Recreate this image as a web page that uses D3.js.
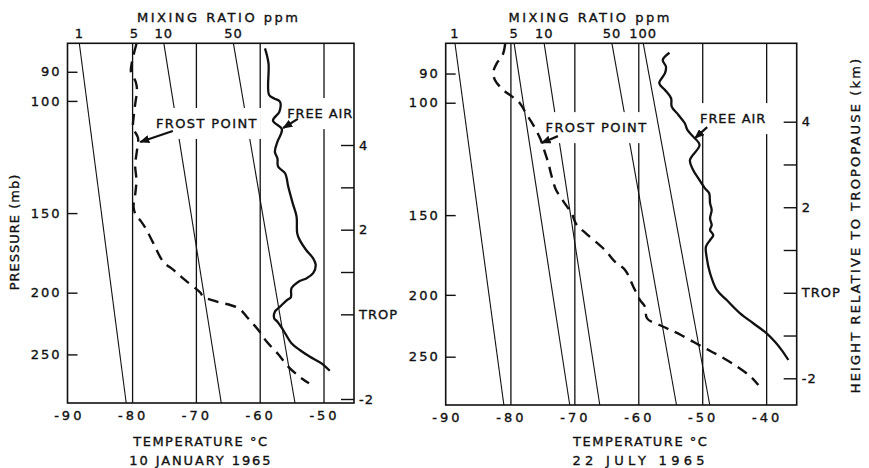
<!DOCTYPE html>
<html>
<head>
<meta charset="utf-8">
<script src="https://cdnjs.cloudflare.com/ajax/libs/d3/7.8.5/d3.min.js"></script>
<style>
body { margin: 0; background: #fff; }
svg text { font-family: "DejaVu Sans", sans-serif; fill: #111; stroke: #111; stroke-width: 0.35px; }
</style>
</head>
<body>
<div id="chart"></div>
<script>
// ---- 10 January 1965 ----
var janFrostT = [-79.4,-80.1,-80.25,-79.5,-79.3,-79.5,-79.8,-79.9,-79.15,-79.3,-79.6,-79.4,-79.6,-79.85,-79.5,-78.7,-77.8,-76.75,-75.2,-73.6,-71.8,-69.4,-68.9,-66.8,-63.4,-61.9,-60.3,-59.0,-57.2,-55.7,-53.8,-52.35];
var janFrostP = [81.4,86.9,90.1,93.4,96.8,99.7,105.2,110.3,114.3,119.4,126.1,133.1,140.5,146.7,151.0,154.4,159.5,167.2,178.8,184.2,191.0,199.9,203.1,206.5,211.6,219.4,228.9,238.7,249.7,260.7,271.2,277.5];
var janAirT = [-59.25,-58.7,-58.6,-57.8,-56.9,-57.0,-58.0,-56.6,-57.3,-57.7,-57.3,-57.2,-56.1,-55.6,-54.9,-54.3,-54.2,-53.8,-52.8,-51.7,-51.3,-51.7,-52.7,-54.0,-55.1,-55.2,-55.8,-56.9,-57.7,-57.8,-57.3,-56.4,-55.1,-53.8,-52.2,-50.4,-49.1];
var janAirP = [82.7,87.3,97.9,99.1,100.3,104.0,107.4,110.8,115.9,120.2,123.1,126.8,129.9,136.4,144.8,151.9,161.4,165.4,171.4,176.7,180.9,186.4,189.8,192.2,196.9,203.4,205.4,210.4,214.2,219.4,222.1,228.9,240.1,246.0,252.1,258.2,265.2];
var janMixLabels = ["1", "5", "10", "50"];
var janMixTopT = [-88.35, -79.7, -75.1, -64.2];
var janMixBottomT = [-81.0, null, -66.1, -54.55];
var janTempTicks = [-90, -80, -70, -60, -50];
var janHeightTicks = [4, 3, 2, 1, 0, -2];

// ---- 22 July 1965 ----
var julFrostT = [-80.9,-81.3,-82.2,-82.75,-82.5,-81.2,-79.8,-78.6,-77.5,-76.5,-75.45,-74.8,-74.15,-73.6,-72.95,-71.85,-70.45,-69.8,-68.15,-65.3,-63.7,-62.15,-60.85,-59.8,-59.0,-58.7,-56.15,-53.4,-49.9,-47.3,-44.6,-42.45,-41.3];
var julFrostP = [80.9,84.2,86.7,89.5,92.1,95.5,97.8,100.2,104.5,108.4,113.6,118.6,124.3,130.7,136.9,142.5,149.4,154.9,160.6,170.1,177.6,182.8,194.2,203.8,209.0,217.7,224.4,231.2,241.8,249.4,259.2,269.0,276.9];
var julAirT = [-55.2,-56.25,-55.75,-55.9,-56.8,-55.9,-54.95,-54.85,-53.8,-52.8,-52.4,-51.5,-50.5,-52.0,-51.5,-50.7,-49.65,-49.0,-48.85,-48.6,-48.85,-48.6,-48.85,-48.35,-48.85,-49.5,-49.4,-48.85,-47.8,-46.25,-44.15,-42.1,-40.0,-38.7,-37.65,-36.6];
var julAirP = [83.5,85.7,87.8,89.9,93.2,95.5,98.4,101.4,104.5,107.7,110.3,113.0,116.5,123.0,127.5,131.3,136.2,138.5,143.7,147.3,151.8,155.5,158.3,161.3,164.1,168.2,174.2,185.0,196.5,203.8,213.8,221.6,229.8,236.9,244.1,253.0];
var julMixLabels = ["1", "5", "10", "50", "100"];
var julMixTopT = [-88.75, -79.5, -74.8, -64.2, -59.3];
var julMixBottomT = [-81.1, -70.8, -66.1, -54.1, -48.9];
var julTempTicks = [-90, -80, -70, -60, -50, -40];
var julHeightTicks = [4, 3, 2, 1, 0, -1, -2];

var pressureTicks = [90, 100, 150, 200, 250];

// annotation anchors, in temperature / pressure
var janNotes = [
    { text: "FROST POINT", t: -68.35, p: 108.3, tailT: -73.7, tailP: 111.5, headT: -78.8, headP: 116.0 },
    { text: "FREE AIR", t: -50.6, p: 104.5, tailT: -54.1, tailP: 106.7, headT: -56.4, headP: 110.3 }
];
var julNotes = [
    { text: "FROST POINT", t: -66.6, p: 109.2, tailT: -72.65, tailP: 112.8, headT: -75.2, headP: 115.6 },
    { text: "FREE AIR", t: -45.25, p: 105.7, tailT: -49.3, tailP: 109.2, headT: -51.2, headP: 113.6 }
];

var svg = d3.select("#chart").append("svg")
    .attr("width", 869)
    .attr("height", 468);

svg.append("defs").append("marker")
    .attr("id", "head")
    .attr("markerUnits", "userSpaceOnUse")
    .attr("markerWidth", 10)
    .attr("markerHeight", 8)
    .attr("refX", 9)
    .attr("refY", 4)
    .attr("orient", "auto")
    .append("path")
    .attr("d", "M0,0 L10,4 L0,8 Z")
    .attr("fill", "#111");

var Panel = function(opts) {
    var self = this;
    this.opts = opts;
    this.box = opts.box;

    this.x = d3.scaleLinear().domain(opts.tDomain).range([this.box.left, this.box.right]);
    this.y = d3.scaleLog().domain(opts.pDomain).range([this.box.top, this.box.bottom]);
    this.h = d3.scaleLinear().domain([4, -2]).range(opts.hRange);

    this.g = svg.append("g");
    this.grid = this.g.append("g");
    this.mask = this.g.append("g");
    this.curves = this.g.append("g");
    this.texts = this.g.append("g");

    self.draw();
}

Panel.prototype.draw = function() {
    var self = this, o = this.opts, b = this.box;
    var pTop = o.pDomain[0], pBot = o.pDomain[1];

    // isotherms
    this.grid.selectAll("line.iso")
        .data(o.tempTicks.filter(function(d) { return d > -90; }))
        .enter().append("line")
        .attr("class", "iso")
        .attr("x1", function(d) { return self.x(d); })
        .attr("x2", function(d) { return self.x(d); })
        .attr("y1", b.top).attr("y2", b.bottom)
        .attr("stroke", "#111").attr("stroke-width", 1.3);

    // mixing ratio lines
    var mix = o.mixTop.map(function(t, i) { return { label: o.mixLabels[i], top: t, bottom: o.mixBottom[i] }; });
    this.grid.selectAll("line.mix")
        .data(mix.filter(function(d) { return d.bottom !== null; }))
        .enter().append("line")
        .attr("class", "mix")
        .attr("x1", function(d) { return self.x(d.top); })
        .attr("y1", self.y(pTop))
        .attr("x2", function(d) { return self.x(d.bottom); })
        .attr("y2", self.y(pBot))
        .attr("stroke", "#111").attr("stroke-width", 1.1);

    this.texts.selectAll("text.mixlab")
        .data(mix)
        .enter().append("text")
        .attr("class", "mixlab")
        .attr("x", function(d) { return self.x(d.top); })
        .attr("y", 38)
        .attr("text-anchor", "middle")
        .attr("font-size", 13)
        .attr("letter-spacing", 1)
        .text(function(d) { return d.label; });

    this.texts.append("text")
        .attr("x", self.x(o.mixTitleT)).attr("y", 22)
        .attr("text-anchor", "middle")
        .attr("font-size", 13).attr("letter-spacing", 2.5)
        .text("MIXING RATIO ppm");

    // frame
    this.g.append("rect")
        .attr("x", b.left).attr("y", b.top)
        .attr("width", b.right - b.left).attr("height", b.bottom - b.top)
        .attr("fill", "none").attr("stroke", "#111").attr("stroke-width", 1.6);

    // pressure axis
    var pAxis = this.g.append("g")
        .attr("transform", "translate(" + b.left + ",0)")
        .call(d3.axisLeft(this.y).tickValues(pressureTicks).tickSize(-10).tickPadding(6).tickFormat(d3.format("d")));
    // temperature axis
    var tAxis = this.g.append("g")
        .attr("transform", "translate(0," + b.bottom + ")")
        .call(d3.axisBottom(this.x).tickValues(o.tempTicks).tickSize(0).tickPadding(8)
            .tickFormat(function(d) { return "-" + Math.abs(d); }));
    // height axis
    var hAxis = this.g.append("g")
        .attr("transform", "translate(" + b.right + ",0)")
        .call(d3.axisRight(this.h).tickValues(o.heightTicks).tickSize(-13).tickPadding(5)
            .tickFormat(function(d) { return d === 0 ? "TROP" : (d % 2 === 0 ? d : ""); }));

    [pAxis, tAxis, hAxis].forEach(function(a) {
        a.attr("font-family", null).attr("font-size", 13).attr("color", "#111");
        a.select(".domain").remove();
        a.selectAll(".tick line").attr("stroke-width", 1.4);
        a.selectAll(".tick text").attr("letter-spacing", 2);
    });
    tAxis.selectAll(".tick text").attr("letter-spacing", 3);
    hAxis.selectAll(".tick text").attr("letter-spacing", 1);

    // captions
    this.texts.append("text")
        .attr("x", self.x(o.captionT)).attr("y", 446)
        .attr("text-anchor", "middle").attr("font-size", 13).attr("letter-spacing", 1.5)
        .text("TEMPERATURE °C");
    this.texts.append("text")
        .attr("x", self.x(o.captionT)).attr("y", 465)
        .attr("text-anchor", "middle").attr("font-size", 13).attr("letter-spacing", o.dateSpacing)
        .text(o.date);

    // curves
    var line = d3.line()
        .x(function(d) { return self.x(d[0]); })
        .y(function(d) { return self.y(d[1]); })
        .curve(d3.curveCatmullRom.alpha(0.5));

    this.curves.append("path")
        .datum(d3.zip(o.frostT, o.frostP))
        .attr("d", line)
        .attr("fill", "none").attr("stroke", "#111")
        .attr("stroke-width", 2.4).attr("stroke-dasharray", "11,7");

    this.curves.append("path")
        .datum(d3.zip(o.airT, o.airP))
        .attr("d", line)
        .attr("fill", "none").attr("stroke", "#111")
        .attr("stroke-width", 2.3).attr("stroke-linejoin", "round");

    // notes with arrows
    o.notes.forEach(function(n) {
        var t = self.texts.append("text")
            .attr("x", self.x(n.t)).attr("y", self.y(n.p) + 5)
            .attr("text-anchor", "middle").attr("font-size", 13).attr("letter-spacing", n.text.length > 8 ? 1.4 : 0.9)
            .text(n.text);
        var bb = t.node().getBBox();
        self.mask.append("rect")
            .attr("x", bb.x - 3).attr("y", bb.y - 8)
            .attr("width", bb.width + 6).attr("height", bb.height + 16)
            .attr("fill", "#fff");
        self.curves.append("line")
            .attr("x1", self.x(n.tailT)).attr("y1", self.y(n.tailP))
            .attr("x2", self.x(n.headT)).attr("y2", self.y(n.headP))
            .attr("stroke", "#111").attr("stroke-width", 2.2)
            .attr("marker-end", "url(#head)");
    });
}

new Panel({
    box: { left: 67.5, right: 354, top: 43.3, bottom: 403 },
    tDomain: [-90.2, -45.3], pDomain: [81.2, 298], hRange: [145, 399],
    tempTicks: janTempTicks, heightTicks: janHeightTicks,
    mixLabels: janMixLabels, mixTop: janMixTopT, mixBottom: janMixBottomT,
    frostT: janFrostT, frostP: janFrostP, airT: janAirT, airP: janAirP,
    notes: janNotes, mixTitleT: -66.5, captionT: -69.3,
    date: "10 JANUARY 1965", dateSpacing: 1.9
});

new Panel({
    box: { left: 445.7, right: 796.7, top: 43.3, bottom: 405 },
    tDomain: [-90.2, -35.3], pDomain: [80.7, 297.6], hRange: [121.7, 378.3],
    tempTicks: julTempTicks, heightTicks: julHeightTicks,
    mixLabels: julMixLabels, mixTop: julMixTopT, mixBottom: julMixBottomT,
    frostT: julFrostT, frostP: julFrostP, airT: julAirT, airP: julAirP,
    notes: julNotes, mixTitleT: -67.6, captionT: -59.7,
    date: "22 JULY 1965", dateSpacing: 4.3
});

// side titles
svg.append("text")
    .attr("transform", "translate(19,232) rotate(-90)")
    .attr("text-anchor", "middle").attr("font-size", 13).attr("letter-spacing", 1)
    .text("PRESSURE (mb)");
svg.append("text")
    .attr("transform", "translate(860,225) rotate(-90)")
    .attr("text-anchor", "middle").attr("font-size", 13).attr("letter-spacing", 2.15)
    .text("HEIGHT RELATIVE TO TROPOPAUSE (km)");
</script>
</body>
</html>
